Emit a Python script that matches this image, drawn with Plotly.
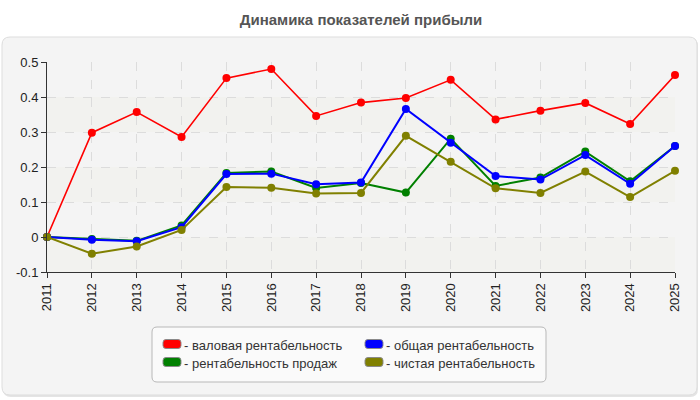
import plotly.graph_objects as go

# ---------------- data ----------------
years = list(range(2011, 2026))
gross_margin = [0, 0.298, 0.357, 0.286, 0.454, 0.480, 0.346, 0.384, 0.397, 0.449, 0.336, 0.361, 0.383, 0.323, 0.463]
total_margin = [0, -0.008, -0.012, 0.028, 0.180, 0.181, 0.151, 0.156, 0.366, 0.269, 0.174, 0.164, 0.234, 0.152, 0.260]
sales_margin = [0, -0.006, -0.011, 0.033, 0.183, 0.187, 0.140, 0.154, 0.127, 0.281, 0.146, 0.170, 0.244, 0.159, 0.260]
net_margin = [0, -0.048, -0.027, 0.020, 0.143, 0.141, 0.124, 0.126, 0.289, 0.215, 0.139, 0.126, 0.187, 0.114, 0.189]

y_tickvals = [-0.1, 0, 0.1, 0.2, 0.3, 0.4, 0.5]
y_ticktext = ["-0.1", "0", "0.1", "0.2", "0.3", "0.4", "0.5"]
x_ticktext = [str(y) for y in years]

title_text = "Динамика показателей прибыли"
names = {
    "gross": "- валовая рентабельность",
    "total": "- общая рентабельность",
    "sales": "- рентабельность продаж",
    "net": "- чистая рентабельность",
}

# ---------------- layout geometry ----------------
W, H = 700, 400
ML, MR, MT, MB = 47, 25, 62, 128
PW, PH = W - ML - MR, H - MT - MB
FONT = "Liberation Sans, Arial, sans-serif"


def px_x(x):
    return (x - ML) / PW


def px_y(y):
    return (H - MB - y) / PH


def rounded_rect(x0, y0, x1, y1, r):
    rx, ry = r / PW, r / PH
    X0, X1 = px_x(x0), px_x(x1)
    Yt, Yb = px_y(y0), px_y(y1)
    return (f"M{X0+rx},{Yt} L{X1-rx},{Yt} Q{X1},{Yt} {X1},{Yt-ry} "
            f"L{X1},{Yb+ry} Q{X1},{Yb} {X1-rx},{Yb} L{X0+rx},{Yb} "
            f"Q{X0},{Yb} {X0},{Yb+ry} L{X0},{Yt-ry} Q{X0},{Yt} {X0+rx},{Yt} Z")


fig = go.Figure()

# draw order: red, green, blue, olive
series = [
    ("gross", gross_margin, "#ff0000", 1.6),
    ("sales", sales_margin, "#008000", 2.0),
    ("total", total_margin, "#0000ff", 2.0),
    ("net", net_margin, "#808000", 2.0),
]
colors = {k: c for k, _, c, _ in series}

for key, vals, color, lw in series:
    fig.add_trace(go.Scatter(
        x=years, y=vals, mode="lines+markers", name=names[key],
        line=dict(color=color, width=lw),
        marker=dict(color=color, size=8),
        showlegend=False, cliponaxis=False,
    ))

# legend slots: (key, legend id, swatch left px, row centre px)
legend_slots = [
    ("gross", "legend", 163, 344),
    ("total", "legend2", 365, 344),
    ("sales", "legend3", 163, 362),
    ("net", "legend4", 365, 362),
]

shapes = [
    # outer panel shadow + panel
    dict(type="path", xref="paper", yref="paper", layer="below",
         path=rounded_rect(3, 38, 698, 397, 8), fillcolor="#e4e4e4", line=dict(width=0)),
    dict(type="path", xref="paper", yref="paper", layer="below",
         path=rounded_rect(2, 37, 697, 395, 8), fillcolor="#f4f4f4",
         line=dict(color="#dddddd", width=1)),
    # legend box
    dict(type="path", xref="paper", yref="paper", layer="below",
         path=rounded_rect(152, 327, 546, 382, 5), fillcolor="#fafafa",
         line=dict(color="#b8b8b8", width=1)),
]
# alternating hatched bands in plot area
for b0, b1 in [(-0.1, 0), (0.1, 0.2), (0.3, 0.4)]:
    shapes.append(dict(type="rect", xref="x domain", yref="y", layer="below",
                       x0=0, x1=1, y0=b0, y1=b1, fillcolor="#f2f2ef", line=dict(width=0)))

legend_layouts = {}
for key, lg, sx, cy in legend_slots:
    # legend entry (text); its own symbol is replaced by a rounded swatch
    fig.add_trace(go.Scatter(
        x=[None], y=[None], mode="lines", name=names[key],
        line=dict(color="rgba(0,0,0,0)", width=1),
        legend=lg, showlegend=True,
    ))
    shapes.append(dict(type="path", xref="paper", yref="paper", layer="below",
                       path=rounded_rect(sx, cy - 4.5, sx + 18, cy + 4.5, 3),
                       fillcolor=colors[key], line=dict(color="#8a8a8a", width=1)))
    legend_layouts[lg] = dict(
        x=px_x(sx - 19), y=px_y(cy - 14.5), xanchor="left", yanchor="top",
        bgcolor="rgba(0,0,0,0)", borderwidth=0, itemwidth=30,
        font=dict(family=FONT, size=13, color="#333333"),
    )

axis_common = dict(
    showline=True, linecolor="#333333", linewidth=1,
    ticks="outside", ticklen=5, tickcolor="#333333",
    showgrid=True, gridcolor="#dcdcdc", griddash="dash", gridwidth=1,
    zeroline=False,
    tickfont=dict(family=FONT, size=13, color="#222222"),
)

fig.update_layout(
    width=W, height=H,
    margin=dict(l=ML, r=MR, t=MT, b=MB, pad=0),
    paper_bgcolor="#ffffff",
    plot_bgcolor="#fcfcf6",
    title=dict(text=f"<b>{title_text}</b>", x=0.5, xref="paper", xanchor="center",
               y=1 - 20 / H, yanchor="middle", yref="container",
               font=dict(family=FONT, size=15, color="#555555")),
    xaxis=dict(range=[2011, 2025], tickvals=years, ticktext=x_ticktext, tickangle=-90,
               **axis_common),
    yaxis=dict(range=[-0.1, 0.5], tickvals=y_tickvals, ticktext=y_ticktext,
               **axis_common),
    shapes=shapes,
    showlegend=True,
    **legend_layouts,
)

fig.write_html("out.html")
